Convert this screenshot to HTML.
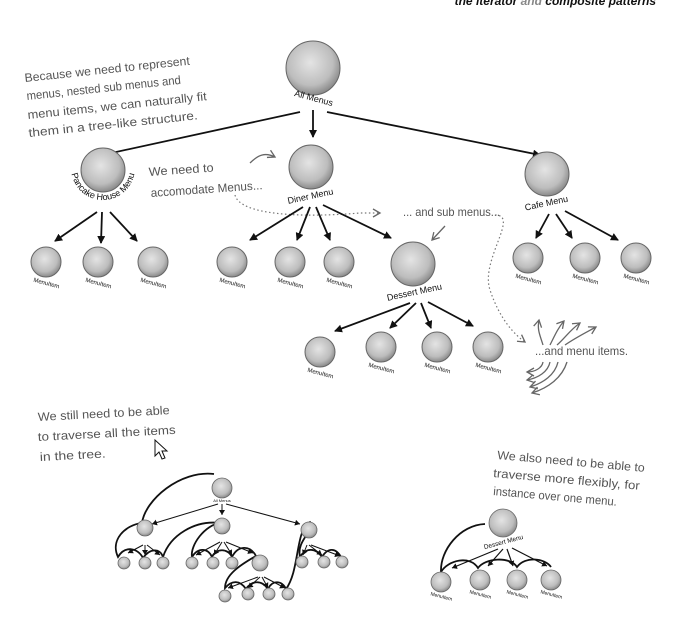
<!DOCTYPE html>
<html><head><meta charset="utf-8"><style>
html,body{margin:0;padding:0;background:#fff;width:698px;height:626px;overflow:hidden}
svg{display:block}
.h{font-family:"Liberation Sans",sans-serif;fill:#555}
.n{font-family:"Liberation Sans",sans-serif;fill:#111}
</style></head><body>
<svg width="698" height="626" viewBox="0 0 698 626" xmlns="http://www.w3.org/2000/svg">
<defs>
<radialGradient id="g" cx="45%" cy="40%" r="60%">
<stop offset="0" stop-color="#e4e4e4"/><stop offset="0.7" stop-color="#bdbdbd"/><stop offset="1" stop-color="#8a8a8a"/>
</radialGradient>
<marker id="a" markerWidth="8" markerHeight="8" refX="7" refY="4" orient="auto" markerUnits="userSpaceOnUse"><path d="M0,0 L8,4 L0,8 z" fill="#111"/></marker>
<marker id="s" markerWidth="6" markerHeight="6" refX="5" refY="3" orient="auto" markerUnits="userSpaceOnUse"><path d="M0,0 L5,3 L0,6 z" fill="#111"/></marker>
<marker id="o" markerWidth="10" markerHeight="10" refX="8" refY="5" orient="auto" markerUnits="userSpaceOnUse"><path d="M1,1 L8,5 L1,9" fill="none" stroke="#666" stroke-width="1.3"/></marker>
<path id="pc" d="M71,168 A32,32 0 0 0 135,168" fill="none"/>
</defs>

<text x="656" y="5" text-anchor="end" font-family="Liberation Sans,sans-serif" font-size="12" font-weight="bold" font-style="italic" fill="#111">the iterator <tspan fill="#888">and</tspan> composite patterns</text>

<g class="h" font-size="12">
<text transform="translate(25,82) rotate(-6)" textLength="166" lengthAdjust="spacingAndGlyphs">Because we need to represent</text>
<text transform="translate(27,100) rotate(-6)" textLength="155" lengthAdjust="spacingAndGlyphs">menus, nested sub menus and</text>
<text transform="translate(28,119) rotate(-6)" textLength="180" lengthAdjust="spacingAndGlyphs">menu items, we can naturally fit</text>
<text transform="translate(29,137) rotate(-6)" textLength="170" lengthAdjust="spacingAndGlyphs">them in a tree-like structure.</text>
<text transform="translate(149,176) rotate(-4)" textLength="65" lengthAdjust="spacingAndGlyphs">We need to</text>
<text transform="translate(151,197) rotate(-4)" textLength="112" lengthAdjust="spacingAndGlyphs">accomodate Menus...</text>
<text x="403" y="216" textLength="97" lengthAdjust="spacingAndGlyphs">... and sub menus...</text>
<text x="535" y="355" textLength="93" lengthAdjust="spacingAndGlyphs">...and menu items.</text>
<text transform="translate(38,421) rotate(-3)" textLength="132" lengthAdjust="spacingAndGlyphs">We still need to be able</text>
<text transform="translate(38,441) rotate(-3)" textLength="138" lengthAdjust="spacingAndGlyphs">to traverse all the items</text>
<text transform="translate(40,461) rotate(-3)" textLength="66" lengthAdjust="spacingAndGlyphs">in the tree.</text>
<text transform="translate(497,459) rotate(5)" textLength="148" lengthAdjust="spacingAndGlyphs">We also need to be able to</text>
<text transform="translate(493,477) rotate(5)" textLength="147" lengthAdjust="spacingAndGlyphs">traverse more flexibly, for</text>
<text transform="translate(493,495) rotate(5)" textLength="124" lengthAdjust="spacingAndGlyphs">instance over one menu.</text>
</g>

<path d="M155,440 L155,456 L159,452 L162,459 L165,458 L162,451 L167,451 z" fill="#fff" stroke="#111" stroke-width="1"/>

<g fill="none" stroke="#777" stroke-width="1.2" stroke-dasharray="1.5,2.5">
<path d="M235,195 C240,215 300,218 360,213 L380,213" marker-end="url(#o)"/>
<path d="M495,215 C520,215 480,260 490,290 C500,320 515,335 525,342" marker-end="url(#o)"/>
</g>
<g fill="none" stroke="#666" stroke-width="1.3">
<path d="M250,163 C258,155 265,152 275,157" marker-end="url(#o)"/>
<path d="M445,226 L432,240" marker-end="url(#o)"/>
<path d="M543,345 C540,335 537,330 539,320" marker-end="url(#o)"/>
<path d="M550,345 C555,335 558,328 564,321" marker-end="url(#o)"/>
<path d="M557,345 C565,338 570,330 580,323" marker-end="url(#o)"/>
<path d="M565,345 C575,338 585,333 596,327" marker-end="url(#o)"/>
<path d="M543,362 C542,368 535,372 527,372" marker-end="url(#o)"/>
<path d="M550,362 C548,372 538,378 527,380" marker-end="url(#o)"/>
<path d="M558,362 C555,375 543,383 530,387" marker-end="url(#o)"/>
<path d="M567,362 C562,378 548,388 532,393" marker-end="url(#o)"/>
</g>

<g stroke="#111" stroke-width="1.8" marker-end="url(#a)">
<line x1="300" y1="112" x2="93" y2="157"/>
<line x1="313" y1="110" x2="313" y2="137"/>
<line x1="327" y1="112" x2="540" y2="155"/>
<line x1="97" y1="212" x2="55" y2="241"/>
<line x1="102" y1="212" x2="101" y2="243"/>
<line x1="110" y1="212" x2="137" y2="241"/>
<line x1="303" y1="207" x2="250" y2="240"/>
<line x1="310" y1="207" x2="297" y2="240"/>
<line x1="316" y1="207" x2="330" y2="240"/>
<line x1="323" y1="205" x2="391" y2="238"/>
<line x1="549" y1="214" x2="536" y2="238"/>
<line x1="556" y1="214" x2="572" y2="238"/>
<line x1="565" y1="211" x2="618" y2="240"/>
<line x1="410" y1="303" x2="335" y2="331"/>
<line x1="416" y1="303" x2="390" y2="328"/>
<line x1="421" y1="303" x2="431" y2="328"/>
<line x1="428" y1="302" x2="473" y2="326"/>
</g>

<g stroke="#666" stroke-width="1" fill="url(#g)">
<circle cx="313" cy="68" r="27"/>
<circle cx="103" cy="170" r="22"/>
<circle cx="311" cy="167" r="22"/>
<circle cx="547" cy="174" r="22"/>
<circle cx="413" cy="264" r="22"/>
<circle cx="46" cy="262" r="15"/><circle cx="98" cy="262" r="15"/><circle cx="153" cy="262" r="15"/>
<circle cx="232" cy="262" r="15"/><circle cx="290" cy="262" r="15"/><circle cx="339" cy="262" r="15"/>
<circle cx="528" cy="258" r="15"/><circle cx="585" cy="258" r="15"/><circle cx="636" cy="258" r="15"/>
<circle cx="320" cy="352" r="15"/><circle cx="381" cy="347" r="15"/><circle cx="437" cy="347" r="15"/>
<circle cx="488" cy="347" r="15"/>
</g>
<g class="n">
<text transform="translate(313,101) rotate(15)" text-anchor="middle" font-size="9">All Menus</text>
<text font-size="9"><textPath href="#pc" startOffset="50%" text-anchor="middle">Pancake House Menu</textPath></text>
<text transform="translate(311,199) rotate(-12)" text-anchor="middle" font-size="9">Diner Menu</text>
<text transform="translate(547,206) rotate(-12)" text-anchor="middle" font-size="9">Cafe Menu</text>
<text transform="translate(415,295) rotate(-12)" text-anchor="middle" font-size="9">Dessert Menu</text>
<g font-size="6" text-anchor="middle">
<text transform="translate(46,285) rotate(15)">MenuItem</text><text transform="translate(98,285) rotate(15)">MenuItem</text><text transform="translate(153,285) rotate(15)">MenuItem</text>
<text transform="translate(232,285) rotate(15)">MenuItem</text><text transform="translate(290,285) rotate(15)">MenuItem</text><text transform="translate(339,285) rotate(15)">MenuItem</text>
<text transform="translate(528,281) rotate(15)">MenuItem</text><text transform="translate(585,281) rotate(15)">MenuItem</text><text transform="translate(636,281) rotate(15)">MenuItem</text>
<text transform="translate(320,375) rotate(15)">MenuItem</text><text transform="translate(381,370) rotate(15)">MenuItem</text><text transform="translate(437,370) rotate(15)">MenuItem</text><text transform="translate(488,370) rotate(15)">MenuItem</text>
</g></g>

<g stroke="#111" stroke-width="1" marker-end="url(#s)">
<line x1="218" y1="504" x2="152" y2="524"/><line x1="222" y1="504" x2="222" y2="515"/><line x1="226" y1="504" x2="300" y2="524"/>
<line x1="143" y1="545" x2="128" y2="553"/><line x1="145" y1="545" x2="145" y2="555"/><line x1="147" y1="545" x2="160" y2="555"/>
<line x1="220" y1="542" x2="196" y2="555"/><line x1="222" y1="542" x2="214" y2="555"/><line x1="224" y1="542" x2="232" y2="555"/><line x1="226" y1="542" x2="253" y2="553"/>
<line x1="307" y1="545" x2="303" y2="555"/><line x1="309" y1="545" x2="322" y2="555"/><line x1="311" y1="545" x2="340" y2="556"/>
<line x1="258" y1="577" x2="228" y2="588"/><line x1="260" y1="577" x2="248" y2="588"/><line x1="262" y1="577" x2="268" y2="588"/><line x1="264" y1="577" x2="285" y2="588"/>
</g>
<g fill="none" stroke="#111" stroke-width="1.8">
<path d="M214,474 C180,470 145,500 142,523 C125,525 110,540 118,557 C125,545 138,548 143,558 C150,548 160,548 163,557 C170,535 195,520 220,523 C205,525 190,545 192,557 C198,547 208,548 212,557 C216,548 228,548 232,557 C238,545 250,545 256,556 C240,565 225,575 225,588 C232,580 240,580 246,589 C252,580 262,580 268,589 C272,580 282,580 286,589 C300,570 295,530 310,522 C316,530 296,540 300,557 C306,547 316,548 322,557 C328,547 336,548 341,557"/>
</g>
<g stroke="#666" stroke-width="0.8" fill="url(#g)">
<circle cx="222" cy="488" r="10"/>
<circle cx="145" cy="528" r="8"/><circle cx="222" cy="526" r="8"/><circle cx="309" cy="530" r="8"/>
<circle cx="260" cy="563" r="8"/>
<circle cx="124" cy="563" r="6"/><circle cx="145" cy="563" r="6"/><circle cx="163" cy="563" r="6"/>
<circle cx="192" cy="563" r="6"/><circle cx="213" cy="563" r="6"/><circle cx="232" cy="563" r="6"/>
<circle cx="302" cy="562" r="6"/><circle cx="324" cy="562" r="6"/><circle cx="342" cy="562" r="6"/>
<circle cx="225" cy="596" r="6"/><circle cx="248" cy="594" r="6"/><circle cx="269" cy="594" r="6"/><circle cx="288" cy="594" r="6"/>
</g>

<g stroke="#111" stroke-width="1.2" marker-end="url(#s)">
<line x1="498" y1="549" x2="452" y2="568"/><line x1="503" y1="549" x2="488" y2="566"/><line x1="507" y1="549" x2="513" y2="566"/><line x1="512" y1="548" x2="547" y2="566"/>
</g>
<path d="M485,524 C460,525 440,550 441,572 C448,560 470,555 478,568 C485,558 510,556 517,567 C525,556 545,558 551,567" fill="none" stroke="#111" stroke-width="1.8"/>
<g stroke="#666" stroke-width="0.8" fill="url(#g)">
<circle cx="503" cy="523" r="14"/>
<circle cx="441" cy="582" r="10"/><circle cx="480" cy="580" r="10"/><circle cx="517" cy="580" r="10"/><circle cx="551" cy="580" r="10"/>
</g>
<g class="n" font-size="5" text-anchor="middle">
<text transform="translate(504,544) rotate(-15)" font-size="6.5">Dessert Menu</text>
<text transform="translate(441,598) rotate(15)">MenuItem</text><text transform="translate(480,596) rotate(15)">MenuItem</text><text transform="translate(517,596) rotate(15)">MenuItem</text><text transform="translate(551,596) rotate(15)">MenuItem</text>
<text x="222" y="502" font-size="4">All Menus</text>
</g>
</svg>
</body></html>
